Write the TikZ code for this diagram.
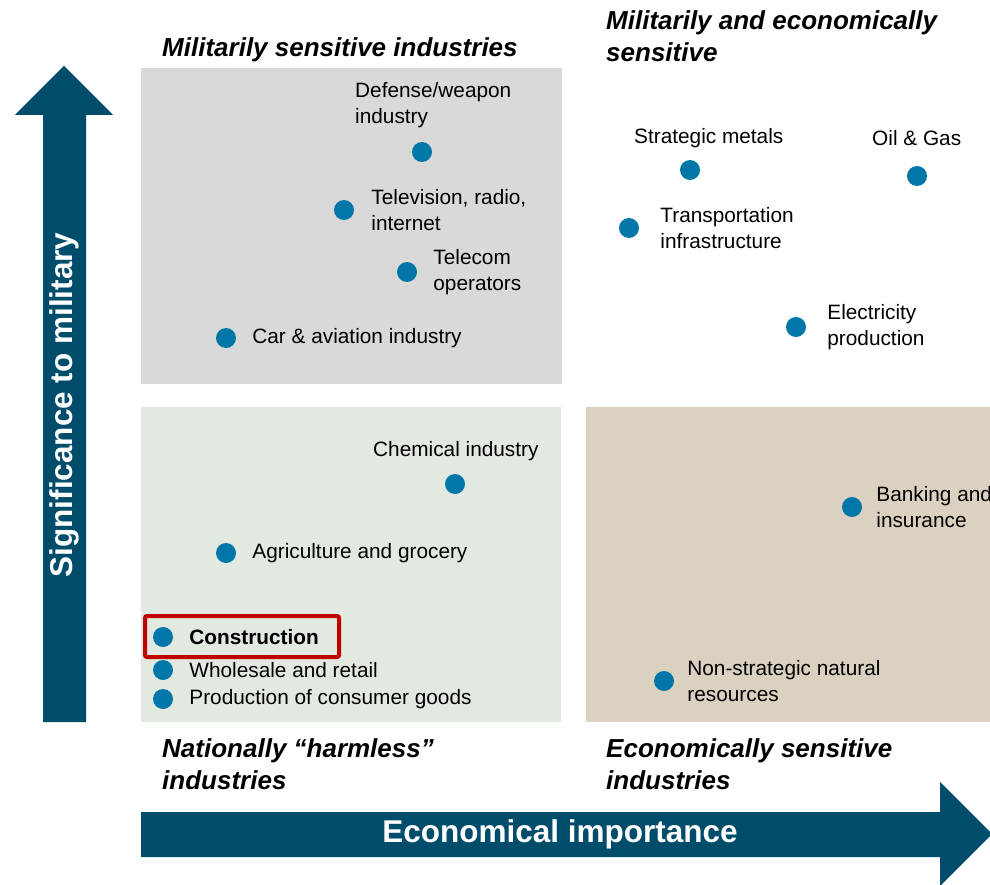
\documentclass[tikz,border=0pt]{standalone}
\usepackage{fontspec}
\setmainfont{Liberation Sans}
\usetikzlibrary{positioning}
\definecolor{axisblue}{HTML}{004C6B}
\definecolor{dotblue}{HTML}{0077A8}
\definecolor{milgrey}{HTML}{D9D9D9}
\definecolor{harmgreen}{HTML}{E2E9E0}
\definecolor{ecotan}{HTML}{DAD1C1}
\definecolor{markred}{HTML}{C00000}
\tikzset{
  dot/.style={circle,fill=dotblue,minimum size=20pt,inner sep=0pt},
  lbl/.style={font=\fontsize{20.8}{25.5}\selectfont,align=left,inner sep=0pt,anchor=west},
  qtitle/.style={font=\fontsize{26}{32}\selectfont\bfseries\itshape,align=left,inner sep=0pt,anchor=west},
  axislbl/.style={font=\fontsize{31.5}{34}\selectfont\bfseries,text=white,inner sep=0pt}
}

\begin{document}
\begin{tikzpicture}[x=1pt,y=-1pt]
\useasboundingbox (0,0) rectangle (990,885);
% quadrants
\fill[milgrey] (141,68) rectangle (562,384);
\fill[harmgreen] (141,407) rectangle (561,722);
\fill[ecotan] (586,407) rectangle (990,722);
% axes
\fill[axisblue] (43,722)--(43,115)--(15,115)--(64,66)--(113,115)--(86,115)--(86,722)--cycle;
\fill[axisblue] (141,812)--(940,812)--(940,782)--(992,834)--(940,886)--(940,857)--(141,857)--cycle;
\node[axislbl,rotate=90] (ylab) at (64,405) {Significance to military};
\node[axislbl] (xlab) at (560,834) {Economical importance};
% quadrant titles
\node[qtitle] (tMil) at (162,50) {Militarily sensitive industries};
\node[qtitle] (tBoth) at (606,36) {Militarily and economically\\sensitive};
\node[qtitle] (tHarm) at (162,764) {Nationally “harmless”\\industries};
\node[qtitle] (tEco) at (606,764) {Economically sensitive\\industries};
% militarily sensitive
\node[dot] (dDef) at (422,152) {};
\node[lbl] (lDef) at (355,105) {Defense/weapon\\industry};
\node[dot] (dTv) at (344,210) {};
\node[lbl,right=17pt of dTv] (lTv) {Television, radio,\\internet};
\node[dot] (dTel) at (407,272) {};
\node[lbl,right=16pt of dTel] (lTel) {Telecom\\operators};
\node[dot] (dCar) at (226,338) {};
\node[lbl,right=16pt of dCar] (lCar) {Car \& aviation industry};
% militarily and economically sensitive
\node[dot] (dMet) at (690,170) {};
\node[lbl] (lMet) at (634,138) {Strategic metals};
\node[dot] (dOil) at (917,176) {};
\node[lbl] (lOil) at (872,138) {Oil \& Gas};
\node[dot] (dTra) at (629,228) {};
\node[lbl,right=21pt of dTra] (lTra) {Transportation\\infrastructure};
\node[dot] (dEl) at (796,327) {};
\node[lbl,right=21pt of dEl] (lEl) {Electricity\\production};
% nationally harmless
\node[dot] (dChem) at (455,484) {};
\node[lbl] (lChem) at (373,451) {Chemical industry};
\node[dot] (dAgr) at (226,553) {};
\node[lbl,right=16pt of dAgr] (lAgr) {Agriculture and grocery};
\node[dot] (dCon) at (163,637) {};
\node[lbl,right=16pt of dCon,font=\fontsize{20.8}{25.5}\selectfont\bfseries] (lCon) {Construction};
\node[dot] (dWho) at (163,670) {};
\node[lbl,right=16pt of dWho] (lWho) {Wholesale and retail};
\node[dot] (dPro) at (163,699) {};
\node[lbl,right=16pt of dPro] (lPro) {Production of consumer goods};
\draw[markred,line width=4pt,rounded corners=2pt] (145,616) rectangle (339,657);
% economically sensitive
\node[dot] (dBank) at (852,507) {};
\node[lbl,right=14pt of dBank] (lBank) {Banking and\\insurance};
\node[dot] (dNat) at (664,681) {};
\node[lbl,right=13pt of dNat] (lNat) {Non-strategic natural\\resources};
\end{tikzpicture}
\end{document}
